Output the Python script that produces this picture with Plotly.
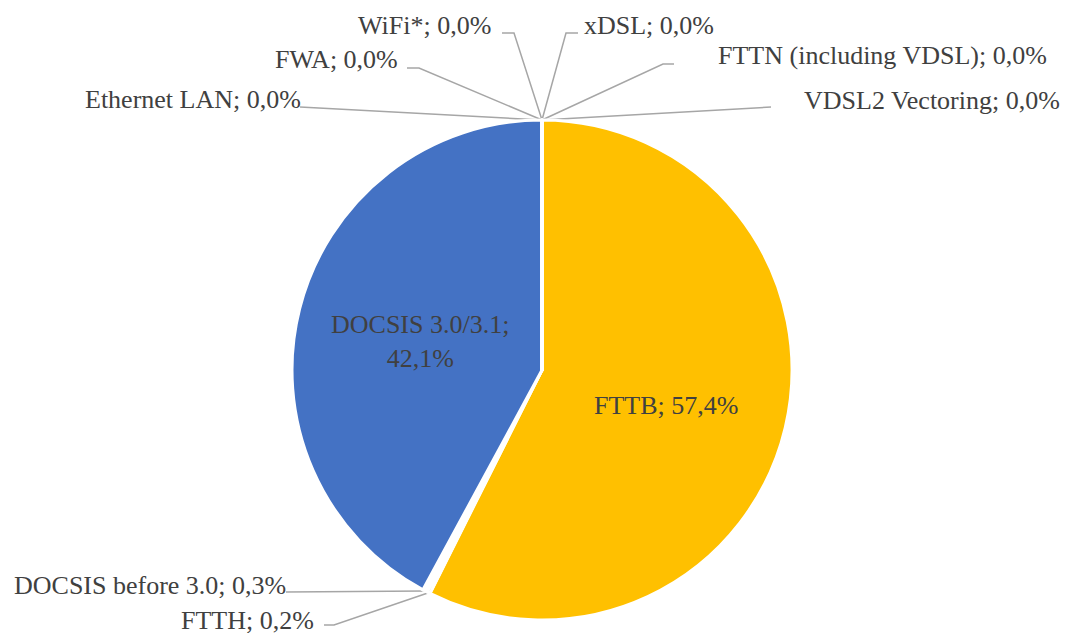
import math
import plotly.graph_objects as go

W, H = 1067, 634

# ---- data ----
categories = ["FTTB", "FTTH", "DOCSIS before 3.0", "DOCSIS 3.0/3.1",
              "Ethernet LAN", "FWA", "WiFi*", "xDSL",
              "FTTN (including VDSL)", "VDSL2 Vectoring"]
shares = [57.4, 0.2, 0.3, 42.1, 0.0, 0.0, 0.0, 0.0, 0.0, 0.0]
slice_colors = ["#FFC000", "#70AD47", "#FFFFFF", "#4472C4",
                "#264478", "#9E480E", "#636363", "#997300", "#255E91", "#43682B"]

# ---- geometry (pixels) ----
CX, CY, R = 542, 370, 250
TEXT_COLOR = "#404040"
FONT = "Liberation Serif, Times New Roman, DejaVu Serif, serif"
FS = 26

# label placement: text anchor point, anchor side, leader polyline (from label side)
label_layout = {
    "Ethernet LAN": dict(x=303, y=99, side="right", path=[(300, 107)]),
    "FWA": dict(x=400, y=59, side="right", path=[(407, 68), (419, 68)]),
    "WiFi*": dict(x=493, y=25, side="right", path=[(502, 33), (514, 33)]),
    "xDSL": dict(x=582, y=25, side="left", path=[(578, 33), (566, 33)]),
    "FTTN (including VDSL)": dict(x=716, y=55, side="left", path=[(674, 64), (663, 64)]),
    "VDSL2 Vectoring": dict(x=802, y=100, side="left", path=[(771, 107)]),
    "DOCSIS before 3.0": dict(x=288, y=585, side="right", path=[(286, 592)]),
    "FTTH": dict(x=316, y=620, side="right", path=[(324, 625), (334, 625)]),
}
inside_layout = {
    "DOCSIS 3.0/3.1": dict(x=420, y=341, br=True),
    "FTTB": dict(x=666, y=405, br=False),
}


def fmt(v):
    return f"{v:.1f}%".replace(".", ",")


fig = go.Figure()

fig.add_trace(go.Pie(
    labels=categories, values=shares, sort=False, direction="clockwise",
    rotation=0, marker=dict(colors=slice_colors, line=dict(color="white", width=3)),
    textinfo="none", hoverinfo="label+percent", showlegend=False,
    domain=dict(x=[(CX - R) / W, (CX + R) / W], y=[1 - (CY + R) / H, 1 - (CY - R) / H]),
))

total = sum(shares)
cum = 0.0
annotations = []
for name, v in zip(categories, shares):
    mid = (cum + v / 2) / total
    cum += v
    ang = 2 * math.pi * mid
    ax_, ay_ = CX + R * math.sin(ang), CY - R * math.cos(ang)
    txt = f"{name}; {fmt(v)}"
    if name in label_layout:
        L = label_layout[name]
        pts = L["path"] + [(ax_, ay_)]
        fig.add_trace(go.Scatter(
            x=[p[0] for p in pts], y=[p[1] for p in pts], mode="lines",
            line=dict(color="#A6A6A6", width=1.5), hoverinfo="skip", showlegend=False))
        annotations.append(dict(x=L["x"], y=L["y"], xref="x", yref="y", text=txt,
                                showarrow=False, xanchor=L["side"], yanchor="middle",
                                font=dict(family=FONT, size=FS, color=TEXT_COLOR)))
    elif name in inside_layout:
        L = inside_layout[name]
        t = f"{name};<br>{fmt(v)}" if L["br"] else txt
        annotations.append(dict(x=L["x"], y=L["y"], xref="x", yref="y", text=t,
                                showarrow=False, xanchor="center", yanchor="middle",
                                font=dict(family=FONT, size=FS, color=TEXT_COLOR)))

fig.update_layout(
    width=W, height=H, margin=dict(l=0, r=0, t=0, b=0),
    paper_bgcolor="white", plot_bgcolor="rgba(0,0,0,0)",
    font=dict(family=FONT, color=TEXT_COLOR),
    xaxis=dict(range=[0, W], visible=False, fixedrange=True),
    yaxis=dict(range=[H, 0], visible=False, fixedrange=True),
    annotations=annotations,
)

fig.write_html("out.html", config=dict(displayModeBar=False),
               post_script="document.body.style.margin='0';")
